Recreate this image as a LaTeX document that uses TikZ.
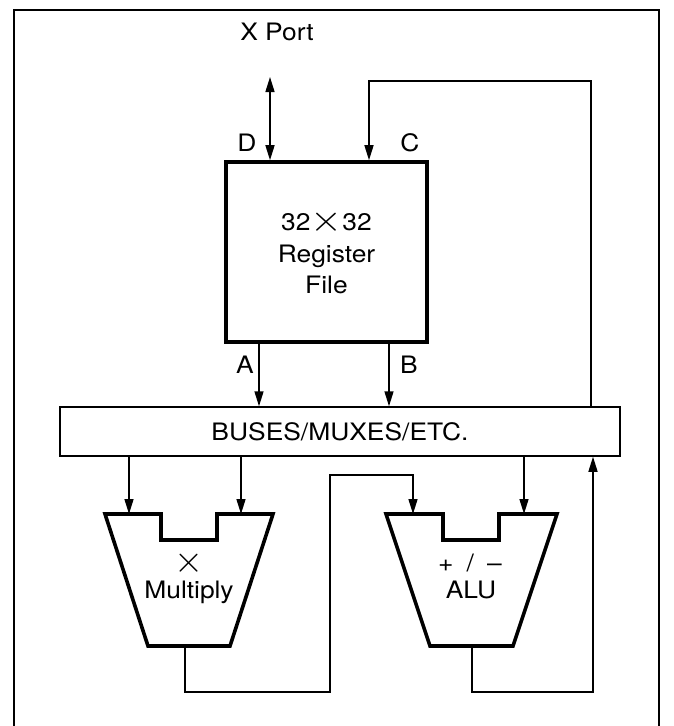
\documentclass[tikz,border=0pt]{standalone}
\usepackage{fontspec}
\usepackage{graphicx}
\setmainfont{TeX Gyre Heros}
\usetikzlibrary{arrows.meta}
\newcommand{\wtxt}[1]{\scalebox{1.1}[1]{#1}}
\newcommand{\bigx}{\raisebox{-0.1ex}{\scalebox{1.5}{$\times$}}}
\begin{document}
\begin{tikzpicture}[x=1pt,y=-1pt,
  thinline/.style={line width=1.5pt},
  thickline/.style={line width=3.6pt},
  arr/.style={thinline,-{Triangle[length=15pt,width=9pt]}},
  dblarr/.style={thinline,{Triangle[length=15pt,width=9pt]}-{Triangle[length=15pt,width=9pt]}},
  every node/.style={font=\fontsize{24}{31.5}\selectfont},
  lbl/.style={inner sep=0pt,anchor=base}]
\useasboundingbox (0,0) rectangle (673,726);
% frame
\draw[line width=1.6pt] (14,726) -- (14,10) -- (659,10) -- (659,726);
% register file
\node[draw,thickline,minimum width=201pt,minimum height=180pt,inner sep=0pt,align=center] (rf) at (326.5,252)
  {\wtxt{32\bigx32}\\\wtxt{Register}\\\wtxt{File}};
% buses
\node[draw,thinline,minimum width=560pt,minimum height=49pt,inner sep=0pt] (bus) at (340,431.5) {\wtxt{BUSES/MUXES/ETC.}};
% labels
\node[lbl] (xport) at (277,40) {\wtxt{X Port}};
\node[lbl] (dl) at (247,151) {\wtxt{D}};
\node[lbl] (cl) at (410,151) {\wtxt{C}};
\node[lbl] (al) at (245,373) {\wtxt{A}};
\node[lbl] (bl) at (409,373) {\wtxt{B}};
% X port arrow
\coordinate (xp) at (270,77);
\draw[dblarr] (xp) -- (xp |- rf.north);
% C feedback loop
\coordinate (cR) at (591,81);
\coordinate (cL) at (369,81);
\draw[arr] (bus.north -| cR) -- (cR) -- (cL) -- (cL |- rf.north);
% A, B
\coordinate (ax) at (259,0);
\coordinate (bx) at (389,0);
\draw[arr] (rf.south -| ax) -- (bus.north -| ax);
\draw[arr] (rf.south -| bx) -- (bus.north -| bx);
% multiplier
\coordinate (m1) at (105,514); \coordinate (m2) at (161,514);
\coordinate (m3) at (161,540); \coordinate (m4) at (217,540);
\coordinate (m5) at (217,514); \coordinate (m6) at (273,514);
\coordinate (m7) at (230,646); \coordinate (m8) at (148,646);
\draw[thickline,line join=miter] (m1) -- (m2) -- (m3) -- (m4) -- (m5) -- (m6) -- (m7) -- (m8) -- cycle;
\node[inner sep=0pt] (mx) at (189,563) {\bigx};
\node[lbl] (mul) at (189,598) {\wtxt{Multiply}};
% alu
\coordinate (a1) at (386,514); \coordinate (a2) at (443,514);
\coordinate (a3) at (443,540); \coordinate (a4) at (499,540);
\coordinate (a5) at (499,514); \coordinate (a6) at (557,514);
\coordinate (a7) at (513,646); \coordinate (a8) at (430,646);
\draw[thickline,line join=miter] (a1) -- (a2) -- (a3) -- (a4) -- (a5) -- (a6) -- (a7) -- (a8) -- cycle;
\node[lbl] (aop) at (470,571) {\wtxt{+\,\,\,/\,\,\,–}};
\node[lbl] (alu) at (471,598) {\wtxt{ALU}};
% bus to units
\coordinate (mi1) at (129,514); \coordinate (mi2) at (241,514);
\coordinate (ai1) at (413,514); \coordinate (ai2) at (524,514);
\draw[arr] (bus.south -| mi1) -- (mi1);
\draw[arr] (bus.south -| mi2) -- (mi2);
\draw[arr] (bus.south -| ai2) -- (ai2);
% multiply output to ALU
\coordinate (mo) at (185,646);
\coordinate (mb) at (185,692);
\coordinate (mr) at (330,692);
\coordinate (mt) at (330,475);
\coordinate (mt2) at (413,475);
\draw[arr] (mo) -- (mb) -- (mr) -- (mt) -- (mt2) -- (ai1);
% alu output to bus
\coordinate (ao) at (472,646);
\coordinate (ab) at (472,692);
\coordinate (ar) at (593,692);
\draw[arr] (ao) -- (ab) -- (ar) -- (bus.south -| ar);
\end{tikzpicture}
\end{document}
